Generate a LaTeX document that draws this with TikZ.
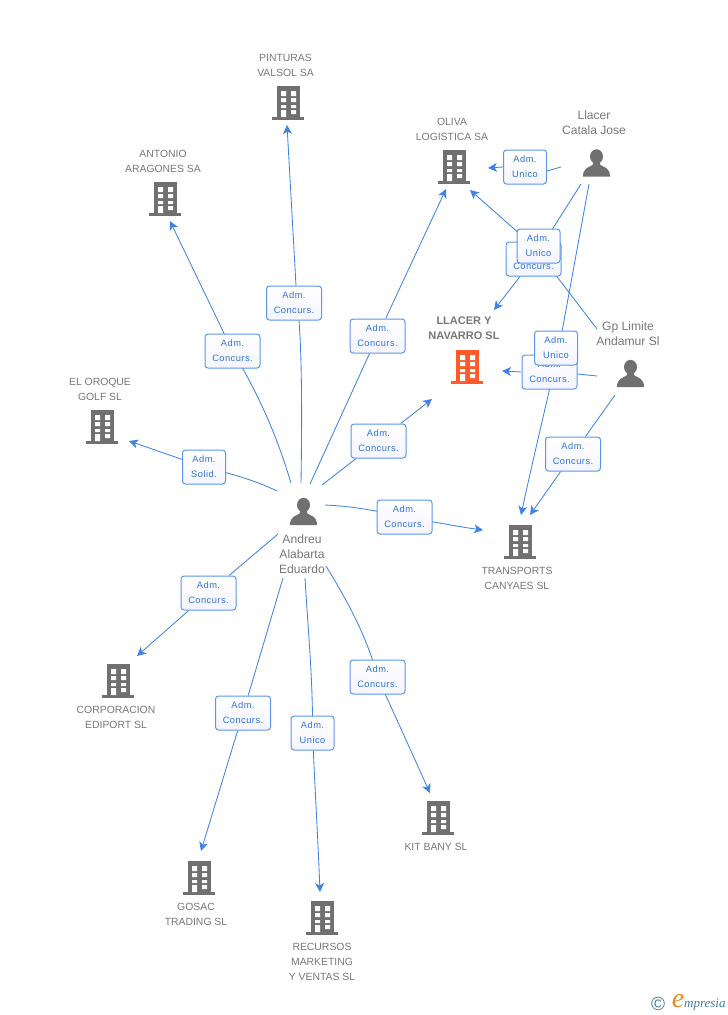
\documentclass[tikz,border=0pt]{standalone}
\usepackage{fontspec}
\setmainfont{Liberation Sans}
\newfontfamily\boxfont[LetterSpace=5]{Liberation Sans}
\newfontfamily\logofont{Liberation Serif}
\usetikzlibrary{arrows.meta,backgrounds,calc}
\definecolor{lnk}{HTML}{3F84E5}
\definecolor{boxedge}{HTML}{5A97E6}
\definecolor{boxtext}{HTML}{2F74D0}
\definecolor{icon}{HTML}{707070}
\definecolor{hot}{HTML}{FF5A2C}
\definecolor{txt}{HTML}{777777}
\definecolor{logoteal}{HTML}{3F7F99}
\definecolor{orng}{HTML}{F08A1D}
\tikzset{
  x=1pt,y=-1pt,
  link/.style={draw=lnk,line width=0.85pt},
  arrowlink/.style={link,-{Stealth[length=9pt,width=9pt,inset=2.5pt]}},
  rolebox/.style={draw=boxedge,line width=1pt,rounded corners=3pt,top color=white,bottom color=white!93!blue!60!white,
    minimum height=34pt,inner sep=0pt,align=center,text=boxtext,font=\boxfont\fontsize{9.3}{15}\selectfont},
  widebox/.style={rolebox,minimum width=55pt},
  narrowbox/.style={rolebox,minimum width=43pt},
  buildingicon/.style={minimum width=33pt,minimum height=34pt,inner sep=0pt,
    path picture={
      \fill[#1] (-11,-17) rectangle (12,15);
      \fill[#1] (-16,14) rectangle (16,17);
      \fill[white] (-7,-12) rectangle (-2,-7) (3,-12) rectangle (8,-7)
        (-7,-5) rectangle (-2,-1) (3,-5) rectangle (8,-1)
        (-7,2) rectangle (-2,5) (3,2) rectangle (8,5)
        (-7,7) rectangle (-2,14) (3,7) rectangle (8,11);
    }},
  personicon/.style={minimum width=28pt,minimum height=28pt,inner sep=0pt,
    path picture={
      \fill[icon] (0,-6.5) ellipse (6.5 and 7.2);
      \fill[icon] (-3.5,-2) -- (3.5,-2) -- (3.8,2) .. controls (8,4.5) and (13.5,5) .. (13.5,13.5)
        -- (-13.5,13.5) .. controls (-13.5,5) and (-8,4.5) .. (-3.8,2) -- cycle;
    }},
  orgname/.style={align=center,text=txt,inner sep=0pt,font=\fontsize{10.4}{15}\selectfont},
  pname/.style={align=center,text=txt,inner sep=0pt,font=\fontsize{12.1}{15}\selectfont},
}
\begin{document}
\begin{tikzpicture}
\useasboundingbox (0,0) rectangle (728,1015);
% buildings
\node[buildingicon=icon] (pinturas) at (288,103) {};
\node[buildingicon=icon] (antonio) at (165,199) {};
\node[buildingicon=icon] (oroque) at (102,427) {};
\node[buildingicon=icon] (oliva) at (454,167) {};
\node[buildingicon=hot] (navarro) at (467,367) {};
\node[buildingicon=icon] (transports) at (520,542) {};
\node[buildingicon=icon] (corporacion) at (118,681) {};
\node[buildingicon=icon] (gosac) at (199,878) {};
\node[buildingicon=icon] (recursos) at (322,918) {};
\node[buildingicon=icon] (kit) at (438,818) {};
% persons
\node[personicon] (andreu) at (303.5,511.5) {};
\node[personicon] (catala) at (596.5,163) {};
\node[personicon] (limite) at (630.5,373.5) {};
% labels
\node[orgname] (lpinturas) at (285.5,65) {PINTURAS\\VALSOL SA};
\node[orgname] (lantonio) at (163,161) {ANTONIO\\ARAGONES SA};
\node[orgname] (loroque) at (100,389) {EL OROQUE\\GOLF SL};
\node[orgname] (loliva) at (452,129) {OLIVA\\LOGISTICA SA};
\node[orgname,font=\bfseries\fontsize{11}{15}\selectfont] (lnavarro) at (464,328.5) {LLACER Y\\NAVARRO SL};
\node[orgname] (ltransports) at (517,578.5) {TRANSPORTS\\CANYAES SL};
\node[orgname] (lcorporacion) at (116,717.5) {CORPORACION\\EDIPORT SL};
\node[orgname] (lkit) at (436,847) {KIT BANY SL};
\node[orgname] (lgosac) at (196,914.5) {GOSAC\\TRADING SL};
\node[orgname] (lrecursos) at (322,962) {RECURSOS\\MARKETING\\Y VENTAS SL};
\node[pname] (lcatala) at (594,122.5) {Llacer\\Catala Jose};
\node[pname] (llimite) at (628,333.5) {Gp Limite\\Andamur Sl};
\node[pname] (landreu) at (302,554) {Andreu\\Alabarta\\Eduardo};
% role boxes
\node[widebox] (b1) at (294,303) {Adm.\\Concurs.};
\node[widebox] (b2) at (232.5,351) {Adm.\\Concurs.};
\node[narrowbox] (b3) at (204,467) {Adm.\\Solid.};
\node[widebox] (b4) at (377.5,336) {Adm.\\Concurs.};
\node[widebox] (b5) at (378.5,441) {Adm.\\Concurs.};
\node[widebox] (b6) at (404.5,517) {Adm.\\Concurs.};
\node[widebox] (b7) at (208.5,593) {Adm.\\Concurs.};
\node[widebox] (b8) at (243,713) {Adm.\\Concurs.};
\node[narrowbox] (b9) at (312.5,733) {Adm.\\Unico};
\node[widebox] (b10) at (377.5,677) {Adm.\\Concurs.};
\node[narrowbox] (b11) at (525,167) {Adm.\\Unico};
\node[widebox] (b12) at (533.5,259) {Adm.\\Concurs.};
\node[narrowbox] (b13) at (538.5,246) {Adm.\\Unico};
\node[widebox] (b15) at (549.5,372) {Adm.\\Concurs.};
\node[narrowbox] (b14) at (556,348) {Adm.\\Unico};
\node[widebox] (b16) at (573,454) {Adm.\\Concurs.};
% free ends near the icons
\coordinate (s1) at (301,483);
\coordinate (t1) at (287,125);
\coordinate (s2) at (291,483);
\coordinate (t2) at (170,221);
\coordinate (s3) at (277,491);
\coordinate (t3) at (129,441);
\coordinate (s4) at (310,484);
\coordinate (t4) at (446,189);
\coordinate (s5) at (322,485);
\coordinate (t5) at (432,399);
\coordinate (s6) at (325,505);
\coordinate (t6) at (483,530);
\coordinate (s7) at (278,534);
\coordinate (t7) at (137,656);
\coordinate (s8) at (283,578);
\coordinate (t8) at (201,851);
\coordinate (s9) at (305,578);
\coordinate (t9) at (320,892);
\coordinate (s10) at (326,566);
\coordinate (t10) at (430,793);
\coordinate (s11) at (561,167);
\coordinate (t11) at (488,168);
\coordinate (s12) at (581,184);
\coordinate (t12) at (494,310);
\coordinate (s13) at (597,329);
\coordinate (t13) at (470,190);
\coordinate (s14) at (589,184);
\coordinate (t14) at (521,515);
\coordinate (s15) at (597,376);
\coordinate (t15) at (502,371);
\coordinate (s16) at (615,395);
\coordinate (t16) at (530,515);
\begin{pgfonlayer}{background}
\draw[link] (s1) .. controls (302,420) and (302,360) .. ([xshift=5]b1.south);
\draw[arrowlink] ([xshift=2]b1.north) -- (t1);
\draw[link] (s2) .. controls (278,440) and (262,400) .. (b2.center);
\draw[arrowlink] (b2.center) -- (t2);
\draw[arrowlink] (s3) .. controls (255,480) and (225,472) .. (b3.center) -- (t3);
\draw[arrowlink] (s4) -- (b4) -- (t4);
\draw[arrowlink] (s5) -- (b5) -- (t5);
\draw[link] (s6) .. controls (345,506) and (365,508) .. (b6.center);
\draw[arrowlink] (b6.center) .. controls (430,521) and (460,527) .. (t6);
\draw[arrowlink] (s7) -- (b7) -- (t7);
\draw[arrowlink] (s8) -- (b8) -- (t8);
\draw[link] (s9) .. controls (308,630) and (313,680) .. (b9.center);
\draw[arrowlink] (b9.center) .. controls (315,790) and (318,840) .. (t9);
\draw[link] (s10) .. controls (350,605) and (368,640) .. (b10.center);
\draw[arrowlink] (b10.center) -- (t10);
\draw[link] (s11) -- ([yshift=-4]b11.east);
\draw[arrowlink] (b11.west) -- (t11);
\draw[arrowlink] (s12) -- (b12) -- (t12);
\draw[arrowlink] (s13) -- ([xshift=-5]b13.center) -- (t13);
\draw[arrowlink] (s14) -- ([xshift=3]b14.center) .. controls (552,380) and (535,450) .. (t14);
\draw[link] (s15) -- ([yshift=-2]b15.east);
\draw[arrowlink] (b15.west) -- (t15);
\draw[arrowlink] (s16) -- (b16) -- (t16);
\end{pgfonlayer}
% logo
\node[inner sep=0pt,text=logoteal,font=\fontsize{19}{19}\selectfont] (copyr) at (658,1004) {©};
\node[inner sep=0pt,text=orng,font=\logofont\itshape\fontsize{28}{28}\selectfont] (logoe) at (678,1001.5) {e};
\node[inner sep=0pt,anchor=west,text=logoteal,font=\logofont\itshape\fontsize{13}{13}\selectfont] (logor) at (684,1005) {mpresia};
\end{tikzpicture}
\end{document}
